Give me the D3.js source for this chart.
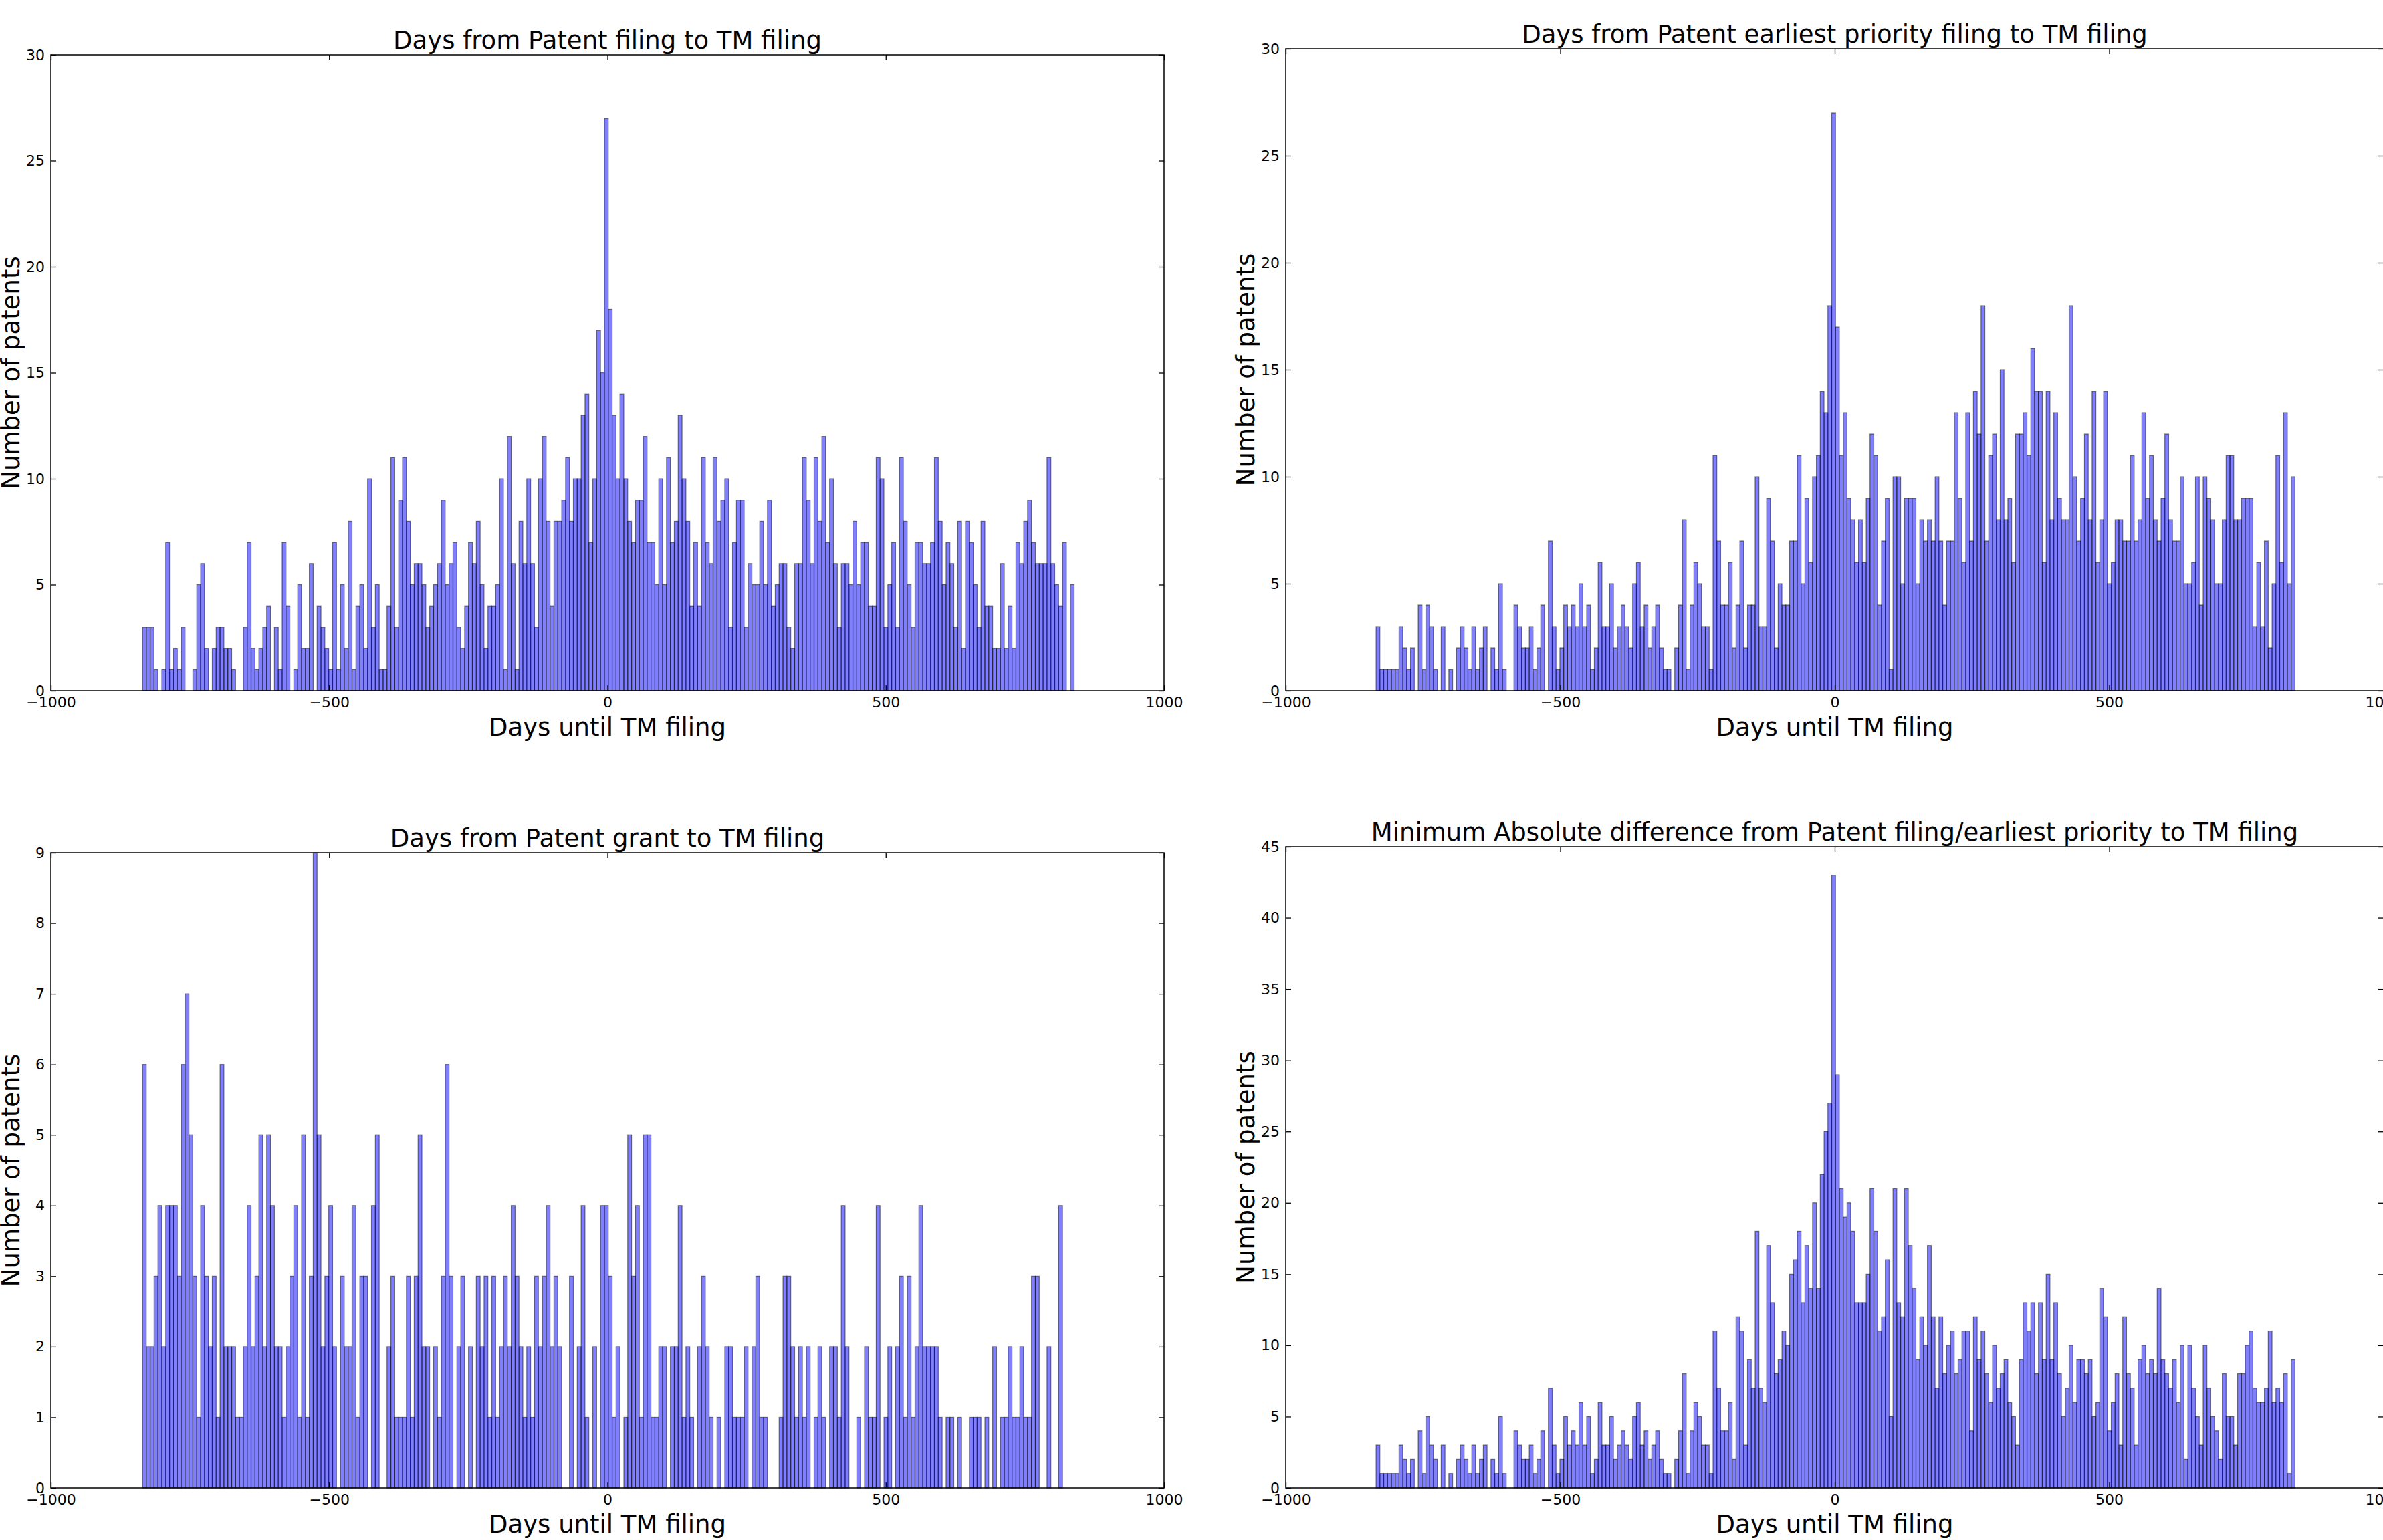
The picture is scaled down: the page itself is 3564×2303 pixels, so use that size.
<!DOCTYPE html>
<meta charset="utf-8">
<title>Days until TM filing</title>
<style>
  body { margin:0; padding:0; background:#fff; }
  svg { display:block; }
  text { font-family: 'DejaVu Sans', sans-serif; fill:#000; }
  .tick line { stroke:#000; stroke-width:1.3px; }
  .tick text { font-size:22px; font-family: 'DejaVu Sans', sans-serif; }
  .domain { display:none; }
  .frame { fill:none; stroke:#000; stroke-width:1.5px; }
  .bar { fill:#0000ff; fill-opacity:0.5; stroke:#000; stroke-opacity:0.5; stroke-width:1.2px; }
  .title, .xlabel, .ylabel { font-size:37px; }
</style>
<body>
<svg id="chart" width="3564" height="2303"></svg>

<script src="https://cdn.jsdelivr.net/npm/d3@7"></script>

<script>

// histogram bins (days), same for all four panels
var binStart = -835.5,
    binWidth = 6.975;

var xTicks = [-1000, -500, 0, 500, 1000];

// counts per bin
var filingCounts = [
  3,3,3,1,0,1,7,1,2,1, 3,0,0,1,5,6,2,0,2,3, 3,2,2,1,0,0,3,7,2,1, 2,3,4,0,3,1,7,4,0,1,
  5,2,2,6,0,4,3,2,1,7, 1,5,2,8,1,4,5,2,10,3, 5,1,1,4,11,3,9,11,8,5, 6,6,5,3,4,5,6,9,5,6,
  7,3,2,4,7,6,8,5,2,4, 4,5,10,1,12,6,1,8,6,10, 6,3,10,12,8,4,8,8,9,11, 8,10,10,13,14,7,10,17,15,27,
  18,13,10,14,10,8,7,9,9,12, 7,7,5,10,5,11,7,8,13,10, 8,4,7,4,11,7,6,11,8,9, 10,3,7,9,9,3,6,5,5,8,
  5,9,4,5,6,6,3,2,6,6, 11,9,6,11,8,12,7,10,6,3, 6,6,5,8,5,7,7,4,4,11, 10,3,5,7,3,11,8,5,3,7,
  7,6,6,7,11,8,5,7,6,3, 8,2,8,7,5,3,8,4,4,2, 2,6,2,4,2,7,6,8,9,7, 6,6,6,11,6,5,4,7,0,5
];

var priorityCounts = [
  3,1,1,1,1,1,3,2,1,2, 0,4,1,4,3,1,0,3,0,1, 0,2,3,2,1,3,1,2,3,0, 2,1,5,1,0,0,4,3,2,2,
  3,1,2,4,0,7,3,1,2,4, 3,4,3,5,3,4,1,2,6,3, 3,5,2,3,4,3,2,5,6,3, 4,2,3,4,2,1,1,0,2,4,
  8,1,4,6,5,3,3,1,11,7, 4,4,6,2,4,7,2,4,4,10, 3,3,9,7,2,5,4,4,7,7, 11,5,9,6,10,11,14,13,18,27,
  17,11,13,9,8,6,8,6,9,12, 11,4,7,9,1,10,10,5,9,9, 9,5,8,7,8,7,10,7,4,7, 7,13,9,6,13,7,14,12,18,7,
  11,12,8,15,8,9,6,12,12,13, 11,16,14,14,6,14,8,13,9,8, 8,18,10,7,9,12,8,14,6,8, 14,5,6,8,8,7,7,11,7,8,
  13,9,11,8,7,9,12,8,7,7, 10,5,5,6,10,4,10,9,8,5, 5,8,11,11,8,8,9,9,9,3, 6,3,7,2,5,11,6,13,5,10
];

var grantCounts = [
  6,2,2,3,4,2,4,4,4,3, 6,7,5,3,1,4,3,2,3,1, 6,2,2,2,1,1,2,4,2,3, 5,2,5,4,2,2,1,2,3,4,
  1,5,1,3,9,5,2,3,4,2, 0,3,2,2,4,1,3,3,0,4, 5,0,0,2,3,1,1,1,3,1, 3,5,2,2,0,2,1,3,6,3,
  0,2,3,0,2,0,3,2,3,1, 3,1,2,3,2,4,3,2,1,2, 1,3,2,3,4,2,3,2,0,0, 3,0,2,4,1,0,2,0,4,4,
  3,1,2,0,1,5,3,4,1,5, 5,1,1,2,2,0,2,2,4,1, 2,1,0,2,3,2,1,0,1,0, 2,2,1,1,1,2,0,2,3,1,
  1,0,0,0,1,3,3,2,1,2, 1,2,0,1,2,1,0,2,2,1, 4,2,0,0,1,0,2,1,1,4, 0,1,2,0,2,3,1,3,1,2,
  4,2,2,2,2,1,0,1,1,0, 1,0,0,1,1,1,0,1,0,2, 0,1,1,2,1,1,2,1,1,3, 3,0,0,2,0,0,4,0,0,0
];

var minAbsCounts = [
  3,1,1,1,1,1,3,2,1,2, 0,4,1,5,3,2,0,3,0,1, 0,2,3,2,1,3,1,2,3,0, 2,1,5,1,0,0,4,3,2,2,
  3,1,2,4,0,7,3,1,2,5, 3,4,3,6,3,5,1,2,6,3, 3,5,2,3,4,3,2,5,6,3, 4,2,3,4,2,1,1,0,2,4,
  8,1,4,6,5,3,3,1,11,7, 4,4,6,2,12,11,3,9,7,18, 7,6,17,13,8,9,11,10,15,16, 18,13,17,14,20,14,22,25,27,43,
  29,21,19,20,18,13,13,13,15,21, 18,11,12,16,5,21,13,12,21,17, 14,9,12,10,17,12,7,12,8,10, 11,8,9,11,11,4,12,9,11,8,
  6,10,7,8,9,6,5,3,9,13, 11,13,8,13,9,15,9,13,8,5, 7,10,6,9,9,8,9,5,6,14, 12,4,6,8,3,12,8,7,3,9,
  10,8,9,8,14,9,8,7,9,6, 10,2,10,7,5,3,10,7,5,4, 2,8,5,5,3,8,8,10,11,7, 6,6,7,11,6,7,6,8,1,9
];

var titles = [
  'Days from Patent filing to TM filing',
  'Days from Patent earliest priority filing to TM filing',
  'Days from Patent grant to TM filing',
  'Minimum Absolute difference from Patent filing/earliest priority to TM filing'
];
var yMaxes = [30, 30, 9, 45];
var yTickSteps = [5, 5, 1, 5];

// axes boxes in pixels: left, right, top, bottom
var boxes = [
  { left: 76,   right: 1741, top: 82,   bottom: 1033 },
  { left: 1923, right: 3565, top: 73,   bottom: 1033 },
  { left: 76,   right: 1741, top: 1275, bottom: 2225 },
  { left: 1923, right: 3565, top: 1266, bottom: 2225 }
];

var allCounts = [filingCounts, priorityCounts, grantCounts, minAbsCounts];

var svg = d3.select("#chart");

allCounts.forEach(function(counts, p) {
  var b = boxes[p];
  var x = d3.scaleLinear().domain([-1000, 1000]).range([b.left, b.right]);
  var y = d3.scaleLinear().domain([0, yMaxes[p]]).range([b.bottom, b.top]);
  var yTicks = d3.range(0, yMaxes[p] + 0.001, yTickSteps[p]);

  var g = svg.append("g");

  // bars (empty bins skipped)
  var bins = counts.map(function(c, i) {
    return { c: c, x0: binStart + i * binWidth, x1: binStart + (i + 1) * binWidth };
  }).filter(function(d) { return d.c > 0; });

  g.selectAll("rect.bar")
    .data(bins)
    .enter().append("rect")
    .attr("class", "bar")
    .attr("x", function(d) { return x(d.x0); })
    .attr("width", function(d) { return x(d.x1) - x(d.x0); })
    .attr("y", function(d) { return y(d.c); })
    .attr("height", function(d) { return y(0) - y(d.c); });

  // ticks pointing inwards on all four sides
  g.append("g")
    .attr("transform", "translate(0," + b.bottom + ")")
    .call(d3.axisBottom(x).tickValues(xTicks).tickSize(-8).tickPadding(9).tickFormat(d3.format("d")));
  g.append("g")
    .attr("transform", "translate(0," + b.top + ")")
    .call(d3.axisTop(x).tickValues(xTicks).tickSize(-8).tickFormat(""));
  g.append("g")
    .attr("transform", "translate(" + b.left + ",0)")
    .call(d3.axisLeft(y).tickValues(yTicks).tickSize(-8).tickPadding(9).tickFormat(d3.format("d")));
  g.append("g")
    .attr("transform", "translate(" + b.right + ",0)")
    .call(d3.axisRight(y).tickValues(yTicks).tickSize(-8).tickFormat(""));

  g.append("rect")
    .attr("class", "frame")
    .attr("x", b.left).attr("y", b.top)
    .attr("width", b.right - b.left).attr("height", b.bottom - b.top);

  g.append("text")
    .attr("class", "title")
    .attr("x", (b.left + b.right) / 2)
    .attr("y", b.top - 9)
    .attr("text-anchor", "middle")
    .text(titles[p]);

  g.append("text")
    .attr("class", "xlabel")
    .attr("x", (b.left + b.right) / 2)
    .attr("y", b.bottom + 67)
    .attr("text-anchor", "middle")
    .text("Days until TM filing");

  g.append("text")
    .attr("class", "ylabel")
    .attr("transform", "translate(" + (b.left - 60) + "," + ((b.top + b.bottom) / 2) + ") rotate(-90)")
    .attr("dy", "0.35em")
    .attr("text-anchor", "middle")
    .text("Number of patents");
});

</script>
</body>
</html>
